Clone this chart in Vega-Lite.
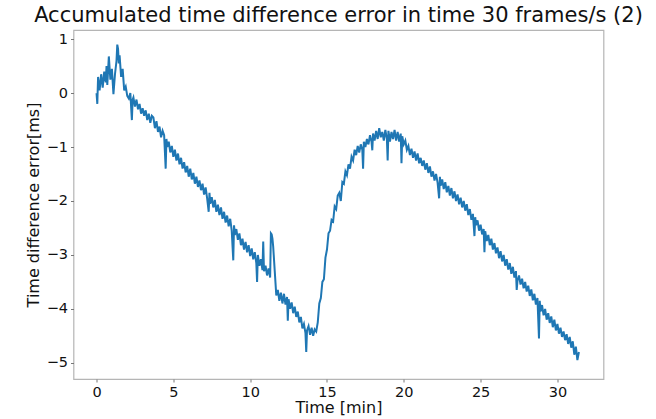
{
  "$schema": "https://vega.github.io/schema/vega-lite/v6.json",
  "autosize": {"type": "none"},
  "width": 530,
  "height": 349,
  "padding": {"left": 73.5, "top": 30, "right": 52, "bottom": 40},
  "background": "white",
  "title": {"text": "Accumulated time difference error in time 30 frames/s (2)", "font": "DejaVu Sans", "fontSize": 21, "fontWeight": "normal", "color": "#111111", "anchor": "middle", "offset": 4},
  "config": {
    "view": {"stroke": "#b5b5b5", "strokeWidth": 1.2},
    "axis": {"grid": false, "domain": false, "tickColor": "#777777", "tickSize": 3, "labelFont": "DejaVu Sans", "labelFontSize": 14.5, "labelColor": "#111111", "titleFont": "DejaVu Sans", "titleFontSize": 16, "titleFontWeight": "normal", "titleColor": "#111111", "labelPadding": 3}
  },
  "data": {"values": [
    {"t":0.0,"v":0.0},{"t":0.05,"v":-0.2},{"t":0.1,"v":0.3},{"t":0.2,"v":0.05},{"t":0.3,"v":0.35},{"t":0.4,"v":0.1},{"t":0.5,"v":0.4},{"t":0.6,"v":0.2},{"t":0.65,"v":0.5},{"t":0.7,"v":0.15},{"t":0.8,"v":0.68},{"t":0.9,"v":0.25},{"t":1.0,"v":0.45},{"t":1.1,"v":-0.02},{"t":1.2,"v":0.35},{"t":1.3,"v":0.6},{"t":1.35,"v":0.9},{"t":1.4,"v":0.82},{"t":1.45,"v":0.55},{"t":1.5,"v":0.7},{"t":1.6,"v":0.3},{"t":1.7,"v":0.45},{"t":1.8,"v":0.05},{"t":1.9,"v":0.12},{"t":2.0,"v":-0.05},
    {"t":2.1,"v":-0.1},{"t":2.2,"v":0.0},{"t":2.3,"v":-0.5},{"t":2.35,"v":-0.12},{"t":2.4,"v":-0.08},{"t":2.5,"v":-0.25},{"t":2.6,"v":-0.12},{"t":2.7,"v":-0.3},{"t":2.8,"v":-0.2},{"t":2.9,"v":-0.38},{"t":3.0,"v":-0.28},{"t":3.1,"v":-0.42},{"t":3.2,"v":-0.32},{"t":3.3,"v":-0.5},{"t":3.4,"v":-0.38},{"t":3.5,"v":-0.55},{"t":3.6,"v":-0.42},{"t":3.7,"v":-0.45},{"t":3.8,"v":-0.65},{"t":3.9,"v":-0.52},{"t":4.0,"v":-0.72},{"t":4.1,"v":-0.62},{"t":4.2,"v":-0.82},{"t":4.3,"v":-0.7},
    {"t":4.4,"v":-0.78},{"t":4.5,"v":-1.4},{"t":4.55,"v":-0.85},{"t":4.6,"v":-1.0},{"t":4.7,"v":-0.9},{"t":4.8,"v":-1.1},{"t":4.9,"v":-0.98},{"t":5.0,"v":-1.18},{"t":5.1,"v":-1.05},{"t":5.2,"v":-1.25},{"t":5.3,"v":-1.12},{"t":5.4,"v":-1.32},{"t":5.5,"v":-1.2},{"t":5.6,"v":-1.4},{"t":5.7,"v":-1.28},{"t":5.8,"v":-1.47},{"t":5.9,"v":-1.35},{"t":6.0,"v":-1.55},
    {"t":6.1,"v":-1.4},{"t":6.2,"v":-1.6},{"t":6.3,"v":-1.48},{"t":6.4,"v":-1.68},{"t":6.5,"v":-1.55},{"t":6.6,"v":-1.74},{"t":6.7,"v":-1.62},{"t":6.8,"v":-1.8},{"t":6.9,"v":-1.68},{"t":7.0,"v":-1.88},{"t":7.1,"v":-1.75},{"t":7.2,"v":-1.95},{"t":7.3,"v":-2.2},{"t":7.35,"v":-1.85},{"t":7.4,"v":-2.05},{"t":7.5,"v":-1.93},{"t":7.6,"v":-2.12},
    {"t":7.7,"v":-1.98},{"t":7.8,"v":-2.2},{"t":7.9,"v":-2.07},{"t":8.0,"v":-2.26},{"t":8.1,"v":-2.12},{"t":8.2,"v":-2.33},{"t":8.3,"v":-2.2},{"t":8.4,"v":-2.4},{"t":8.5,"v":-2.27},{"t":8.6,"v":-2.47},{"t":8.7,"v":-2.33},{"t":8.8,"v":-2.55},{"t":8.9,"v":-3.1},{"t":8.95,"v":-2.45},{"t":9.0,"v":-2.63},{"t":9.1,"v":-2.52},{"t":9.2,"v":-2.72},{"t":9.3,"v":-2.6},{"t":9.4,"v":-2.82},
    {"t":9.5,"v":-2.7},{"t":9.6,"v":-2.9},{"t":9.7,"v":-2.76},{"t":9.8,"v":-2.95},{"t":9.9,"v":-2.82},{"t":10.0,"v":-3.02},{"t":10.1,"v":-2.88},{"t":10.2,"v":-3.08},{"t":10.3,"v":-2.95},{"t":10.4,"v":-3.15},{"t":10.45,"v":-3.5},{"t":10.5,"v":-3.0},{"t":10.6,"v":-3.2},{"t":10.7,"v":-3.08},{"t":10.8,"v":-3.28},{"t":10.85,"v":-2.75},{"t":10.9,"v":-3.3},{"t":11.0,"v":-3.2},{"t":11.1,"v":-3.38},{"t":11.2,"v":-3.25},{"t":11.3,"v":-3.42},{"t":11.35,"v":-2.6},{"t":11.4,"v":-2.62},{"t":11.45,"v":-2.7},{"t":11.5,"v":-2.85},{"t":11.6,"v":-3.3},{"t":11.7,"v":-3.75},
    {"t":11.8,"v":-3.65},{"t":11.9,"v":-3.85},{"t":12.0,"v":-3.7},{"t":12.1,"v":-3.9},{"t":12.2,"v":-3.72},{"t":12.3,"v":-3.92},{"t":12.4,"v":-3.78},{"t":12.45,"v":-4.22},{"t":12.5,"v":-3.82},{"t":12.6,"v":-4.0},{"t":12.7,"v":-3.88},{"t":12.8,"v":-4.08},{"t":12.9,"v":-3.96},{"t":13.0,"v":-4.15},{"t":13.1,"v":-4.05},{"t":13.2,"v":-4.25},{"t":13.3,"v":-4.15},{"t":13.4,"v":-4.36},{"t":13.5,"v":-4.28},{"t":13.6,"v":-4.45},{"t":13.65,"v":-4.8},{"t":13.7,"v":-4.4},{"t":13.8,"v":-4.32},{"t":13.9,"v":-4.48},{"t":14.0,"v":-4.35},{"t":14.1,"v":-4.5},{"t":14.2,"v":-4.38},{"t":14.3,"v":-4.42},
    {"t":14.4,"v":-4.25},{"t":14.5,"v":-3.9},{"t":14.6,"v":-3.8},{"t":14.7,"v":-3.5},{"t":14.8,"v":-3.45},{"t":14.9,"v":-3.05},{"t":15.0,"v":-2.9},{"t":15.1,"v":-2.6},{"t":15.2,"v":-2.55},{"t":15.3,"v":-2.35},{"t":15.4,"v":-2.38},{"t":15.5,"v":-2.1},{"t":15.6,"v":-2.15},{"t":15.7,"v":-1.9},{"t":15.8,"v":-1.85},{"t":15.9,"v":-2.0},{"t":16.0,"v":-1.65},{"t":16.1,"v":-1.68},{"t":16.2,"v":-1.45},{"t":16.3,"v":-1.52},{"t":16.4,"v":-1.32},{"t":16.5,"v":-1.4},{"t":16.6,"v":-1.18},{"t":16.7,"v":-1.25},
    {"t":16.8,"v":-1.05},{"t":16.9,"v":-1.15},{"t":17.0,"v":-0.98},{"t":17.1,"v":-1.1},{"t":17.2,"v":-0.95},{"t":17.3,"v":-1.05},{"t":17.35,"v":-1.4},{"t":17.4,"v":-0.9},{"t":17.5,"v":-1.0},{"t":17.6,"v":-0.85},{"t":17.7,"v":-0.95},{"t":17.8,"v":-0.78},{"t":17.9,"v":-0.9},{"t":17.95,"v":-1.06},{"t":18.0,"v":-0.75},{"t":18.1,"v":-0.88},{"t":18.2,"v":-0.7},{"t":18.3,"v":-0.85},{"t":18.4,"v":-0.65},{"t":18.5,"v":-0.82},{"t":18.6,"v":-0.72},{"t":18.7,"v":-0.88},{"t":18.8,"v":-0.68},{"t":18.9,"v":-0.85},{"t":18.95,"v":-1.25},{"t":19.0,"v":-0.7},{"t":19.1,"v":-0.9},{"t":19.2,"v":-0.72},{"t":19.3,"v":-0.85},{"t":19.4,"v":-0.68},{"t":19.5,"v":-0.88},{"t":19.6,"v":-0.72},{"t":19.7,"v":-0.9},{"t":19.8,"v":-0.75},{"t":19.85,"v":-1.3},{"t":19.9,"v":-0.8},{"t":20.0,"v":-0.95},{"t":20.1,"v":-0.88},{"t":20.2,"v":-1.05},{"t":20.3,"v":-0.98},{"t":20.4,"v":-1.15},
    {"t":20.5,"v":-1.03},{"t":20.6,"v":-1.2},{"t":20.7,"v":-1.08},{"t":20.8,"v":-1.25},{"t":20.9,"v":-1.12},{"t":21.0,"v":-1.3},{"t":21.1,"v":-1.2},{"t":21.2,"v":-1.35},{"t":21.3,"v":-1.25},{"t":21.4,"v":-1.42},{"t":21.5,"v":-1.3},{"t":21.6,"v":-1.48},{"t":21.7,"v":-1.36},{"t":21.8,"v":-1.55},{"t":21.9,"v":-1.45},{"t":22.0,"v":-1.62},{"t":22.1,"v":-1.5},{"t":22.2,"v":-1.66},{"t":22.3,"v":-1.95},{"t":22.35,"v":-1.55},{"t":22.4,"v":-1.72},{"t":22.5,"v":-1.6},{"t":22.6,"v":-1.78},{"t":22.7,"v":-1.65},{"t":22.8,"v":-1.84},
    {"t":22.9,"v":-1.72},{"t":23.0,"v":-1.9},{"t":23.1,"v":-1.76},{"t":23.2,"v":-1.95},{"t":23.3,"v":-1.82},{"t":23.4,"v":-2.0},{"t":23.5,"v":-1.88},{"t":23.6,"v":-2.06},{"t":23.7,"v":-1.94},{"t":23.8,"v":-2.12},{"t":23.9,"v":-2.0},{"t":24.0,"v":-2.18},{"t":24.1,"v":-2.06},{"t":24.2,"v":-2.26},{"t":24.3,"v":-2.15},{"t":24.4,"v":-2.35},{"t":24.5,"v":-2.24},{"t":24.6,"v":-2.65},{"t":24.65,"v":-2.3},{"t":24.7,"v":-2.45},
    {"t":24.8,"v":-2.36},{"t":24.9,"v":-2.55},{"t":25.0,"v":-2.44},{"t":25.1,"v":-2.62},{"t":25.2,"v":-2.52},{"t":25.25,"v":-2.95},{"t":25.3,"v":-2.56},{"t":25.4,"v":-2.74},{"t":25.5,"v":-2.63},{"t":25.6,"v":-2.82},{"t":25.7,"v":-2.7},{"t":25.8,"v":-2.9},{"t":25.9,"v":-2.78},{"t":26.0,"v":-2.97},{"t":26.1,"v":-2.86},{"t":26.2,"v":-3.06},{"t":26.3,"v":-2.93},{"t":26.4,"v":-3.12},
    {"t":26.5,"v":-3.0},{"t":26.6,"v":-3.2},{"t":26.7,"v":-3.08},{"t":26.8,"v":-3.27},{"t":26.9,"v":-3.15},{"t":27.0,"v":-3.35},{"t":27.1,"v":-3.22},{"t":27.2,"v":-3.42},{"t":27.3,"v":-3.3},{"t":27.35,"v":-3.65},{"t":27.4,"v":-3.48},{"t":27.5,"v":-3.38},{"t":27.6,"v":-3.55},{"t":27.7,"v":-3.44},{"t":27.8,"v":-3.62},{"t":27.9,"v":-3.5},{"t":28.0,"v":-3.68},{"t":28.1,"v":-3.57},{"t":28.2,"v":-3.76},
    {"t":28.3,"v":-3.64},{"t":28.4,"v":-3.84},{"t":28.5,"v":-3.72},{"t":28.6,"v":-3.92},{"t":28.7,"v":-3.8},{"t":28.8,"v":-4.55},{"t":28.85,"v":-3.85},{"t":28.9,"v":-4.05},{"t":29.0,"v":-3.93},{"t":29.1,"v":-4.12},{"t":29.2,"v":-4.0},{"t":29.3,"v":-4.2},{"t":29.4,"v":-4.08},{"t":29.5,"v":-4.26},{"t":29.6,"v":-4.14},{"t":29.7,"v":-4.34},{"t":29.8,"v":-4.2},{"t":29.9,"v":-4.4},
    {"t":30.0,"v":-4.28},{"t":30.1,"v":-4.46},{"t":30.2,"v":-4.35},{"t":30.3,"v":-4.52},{"t":30.4,"v":-4.42},{"t":30.5,"v":-4.58},{"t":30.6,"v":-4.47},{"t":30.7,"v":-4.65},{"t":30.8,"v":-4.52},{"t":30.9,"v":-4.72},{"t":31.0,"v":-4.6},{"t":31.1,"v":-4.85},{"t":31.2,"v":-4.7},{"t":31.3,"v":-4.95},{"t":31.4,"v":-4.8}
  ]},
  "mark": {"type": "line", "color": "#1f77b4", "strokeWidth": 2, "interpolate": "linear"},
  "encoding": {
    "x": {"field": "t", "type": "quantitative", "scale": {"domain": [-1.5, 33.0], "nice": false, "zero": false}, "axis": {"values": [0, 5, 10, 15, 20, 25, 30], "title": "Time [min]", "titlePadding": 1, "labelFlush": false}},
    "y": {"field": "v", "type": "quantitative", "scale": {"domain": [-5.3, 1.17], "nice": false, "zero": false}, "axis": {"values": [-5, -4, -3, -2, -1, 0, 1], "title": "Time difference error[ms]", "titlePadding": 5, "labelFlush": false}}
  }
}
